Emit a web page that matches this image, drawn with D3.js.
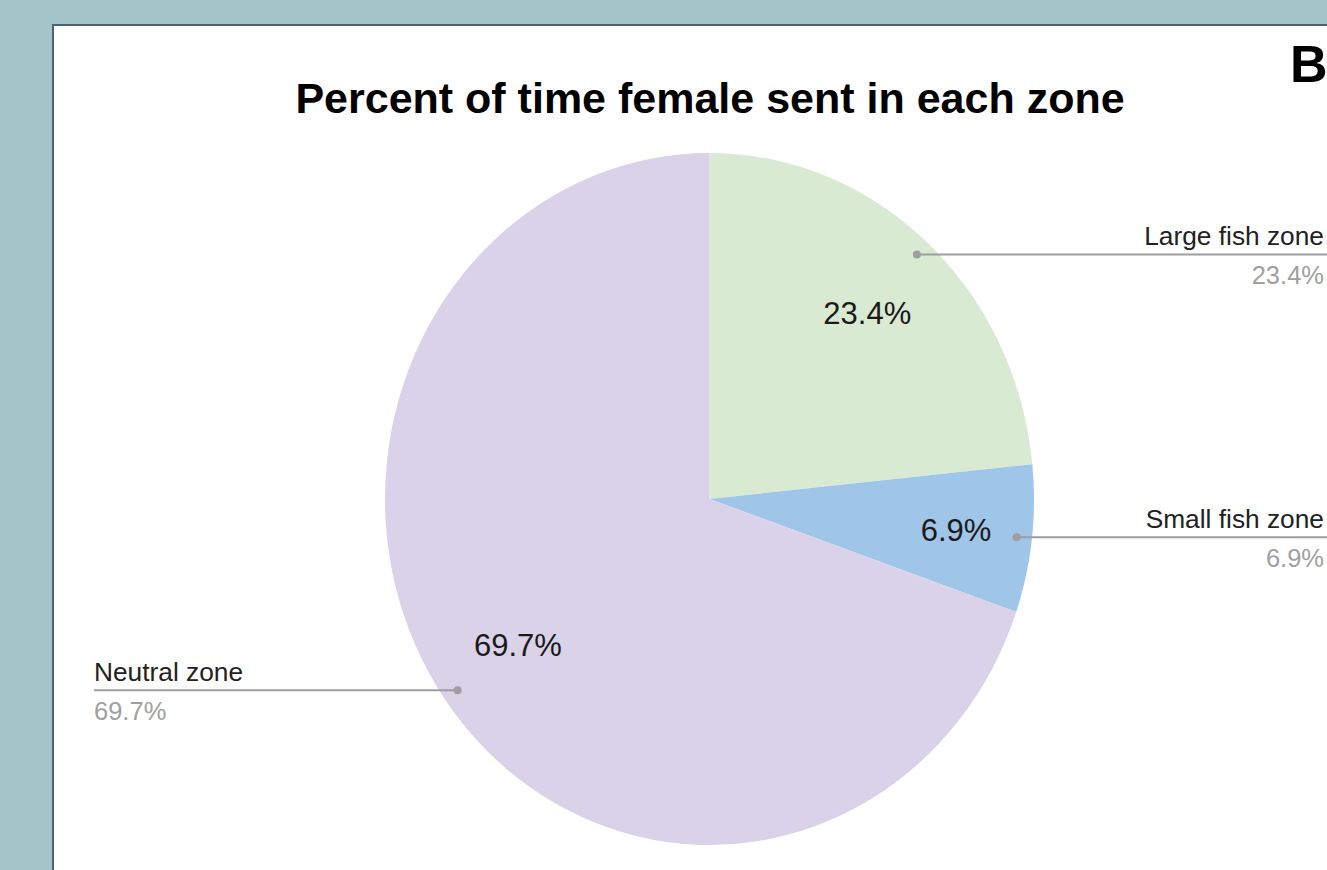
<!DOCTYPE html>
<html>
<head>
<meta charset="utf-8">
<script src="https://cdn.jsdelivr.net/npm/d3@7"></script>
<style>
  html, body { margin: 0; padding: 0; background: #a3c4c9; }
  svg { display: block; }
  text { font-family: "Liberation Sans", Arial, sans-serif; }
</style>
</head>
<body>
<svg id="chart" width="1327" height="870"></svg>
<script>
// Zones, in drawing order (clockwise from 12 o'clock)
const zones = ["Large fish zone", "Small fish zone", "Neutral zone"];
const percents = [23.4, 6.9, 69.7];
const sliceColors = ["#d9ead3", "#9fc5e8", "#d9d2e9"];
const chartTitle = "Percent of time female sent in each zone";
const panelTag = "B";

const W = 1327, H = 870;
const svg = d3.select("#chart");

// white panel with a thin slate border
svg.append("rect")
  .attr("x", 53).attr("y", 25)
  .attr("width", W).attr("height", H)
  .attr("fill", "#ffffff")
  .attr("stroke", "#4f6077").attr("stroke-width", 2);

svg.append("text")
  .attr("x", 710).attr("y", 113)
  .attr("text-anchor", "middle")
  .attr("font-size", 43).attr("font-weight", "bold")
  .attr("fill", "#000")
  .text(chartTitle);

svg.append("text")
  .attr("x", 1290).attr("y", 82)
  .attr("font-size", 52).attr("font-weight", "bold")
  .attr("fill", "#000")
  .text(panelTag);

// pie geometry (slightly squeezed horizontally)
const cx = 709.5, cy = 499, ry = 346, rx = 324.5;
const sx = rx / ry;

const data = zones.map((z, i) => ({ zone: z, value: percents[i], color: sliceColors[i] }));
const pie = d3.pie().value(d => d.value).sort(null);
const arcs = pie(data);
const arc = d3.arc().innerRadius(0).outerRadius(ry);

const fmt = v => d3.format(".1f")(v) + "%";

// project a point on the (elliptical) pie at fraction f of radius along angle a
const at = (a, f) => [cx + Math.sin(a) * rx * f, cy - Math.cos(a) * ry * f];

const g = svg.append("g")
  .attr("transform", `translate(${cx},${cy}) scale(${sx},1)`);

g.selectAll("path")
  .data(arcs)
  .join("path")
  .attr("d", arc)
  .attr("fill", d => d.data.color);

// value labels inside slices
arcs.forEach(d => {
  const mid = (d.startAngle + d.endAngle) / 2;
  const frac = (d.endAngle - d.startAngle) < 0.5 ? 0.765 : 0.725;
  const [x, y] = at(mid, frac);
  svg.append("text")
    .attr("x", x).attr("y", y + 11)
    .attr("text-anchor", "middle")
    .attr("font-size", 31)
    .attr("fill", "#1a1a1a")
    .text(fmt(d.data.value));
});

// leader lines with category name and value
arcs.forEach(d => {
  const mid = (d.startAngle + d.endAngle) / 2;
  const [px, py] = at(mid, 0.953);
  const right = Math.sin(mid) > 0;
  const endX = right ? W + 5 : 94;
  svg.append("line")
    .attr("x1", px).attr("y1", py)
    .attr("x2", endX).attr("y2", py)
    .attr("stroke", "#9e9e9e").attr("stroke-width", 2);
  svg.append("circle")
    .attr("cx", px).attr("cy", py).attr("r", 4)
    .attr("fill", "#9e9e9e");
  const tx = right ? 1324 : 94;
  const anchor = right ? "end" : "start";
  svg.append("text")
    .attr("x", tx).attr("y", py - 9)
    .attr("text-anchor", anchor)
    .attr("font-size", 26.3)
    .attr("fill", "#222")
    .text(d.data.zone);
  svg.append("text")
    .attr("x", tx).attr("y", py + 30)
    .attr("text-anchor", anchor)
    .attr("font-size", 25.5)
    .attr("fill", "#a0a0a0")
    .text(fmt(d.data.value));
});
</script>
</body>
</html>
